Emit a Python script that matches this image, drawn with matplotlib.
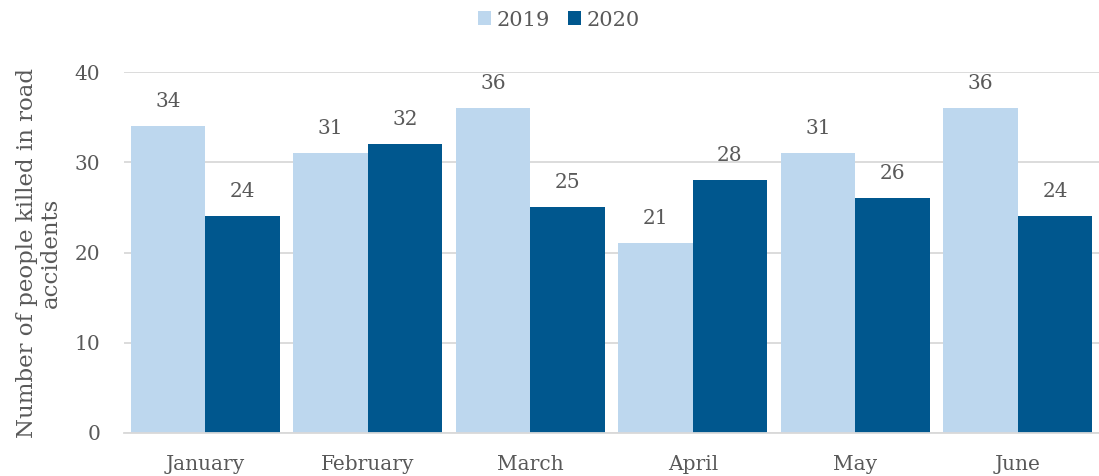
import matplotlib.pyplot as plt
import numpy as np

months = ['January', 'February', 'March', 'April', 'May', 'June']
deaths_2019 = [34, 31, 36, 21, 31, 36]
deaths_2020 = [24, 32, 25, 28, 26, 24]

light = '#BDD7EE'
dark = '#00578E'
grey = '#595959'

plt.rcParams['font.family'] = ['DejaVu Serif']

fig = plt.figure(figsize=(10.99, 4.76), dpi=100)
ax = fig.add_axes([124 / 1099, 43 / 476, 975 / 1099, 361 / 476])

x = np.arange(len(months))
w = 0.458
b1 = ax.bar(x - w / 2, deaths_2019, w, color=light, label='2019', zorder=2)
b2 = ax.bar(x + w / 2, deaths_2020, w, color=dark, label='2020', zorder=2)

for bars in (b1, b2):
    ax.bar_label(bars, padding=11, fontsize=14.5, color=grey)

ax.set_xlim(-0.5, len(months) - 0.5)
ax.set_ylim(0, 40)
ax.set_yticks([0, 10, 20, 30, 40])
ax.set_xticks(x)
ax.set_xticklabels(months)
ax.tick_params(axis='both', length=0, labelsize=14.5, colors=grey)
ax.tick_params(axis='x', pad=16)
ax.tick_params(axis='y', pad=17)
ax.grid(axis='y', color='#D9D9D9', linewidth=1.3, zorder=0)
for s in ['top', 'right', 'left']:
    ax.spines[s].set_visible(False)
ax.spines['bottom'].set_color('#D9D9D9')
ax.spines['bottom'].set_linewidth(1.3)

ax.set_ylabel('Number of people killed in road\naccidents', fontsize=16.5, color=grey,
              labelpad=9, multialignment='center', linespacing=1.15)

fig.legend(loc='center', bbox_to_anchor=(559 / 1099, 1 - 20 / 476), ncol=2,
           frameon=False, fontsize=15, labelcolor=grey, handlelength=0.62,
           handleheight=0.62, handletextpad=0.25, columnspacing=0.9)

fig.savefig('out.png', dpi=100)
